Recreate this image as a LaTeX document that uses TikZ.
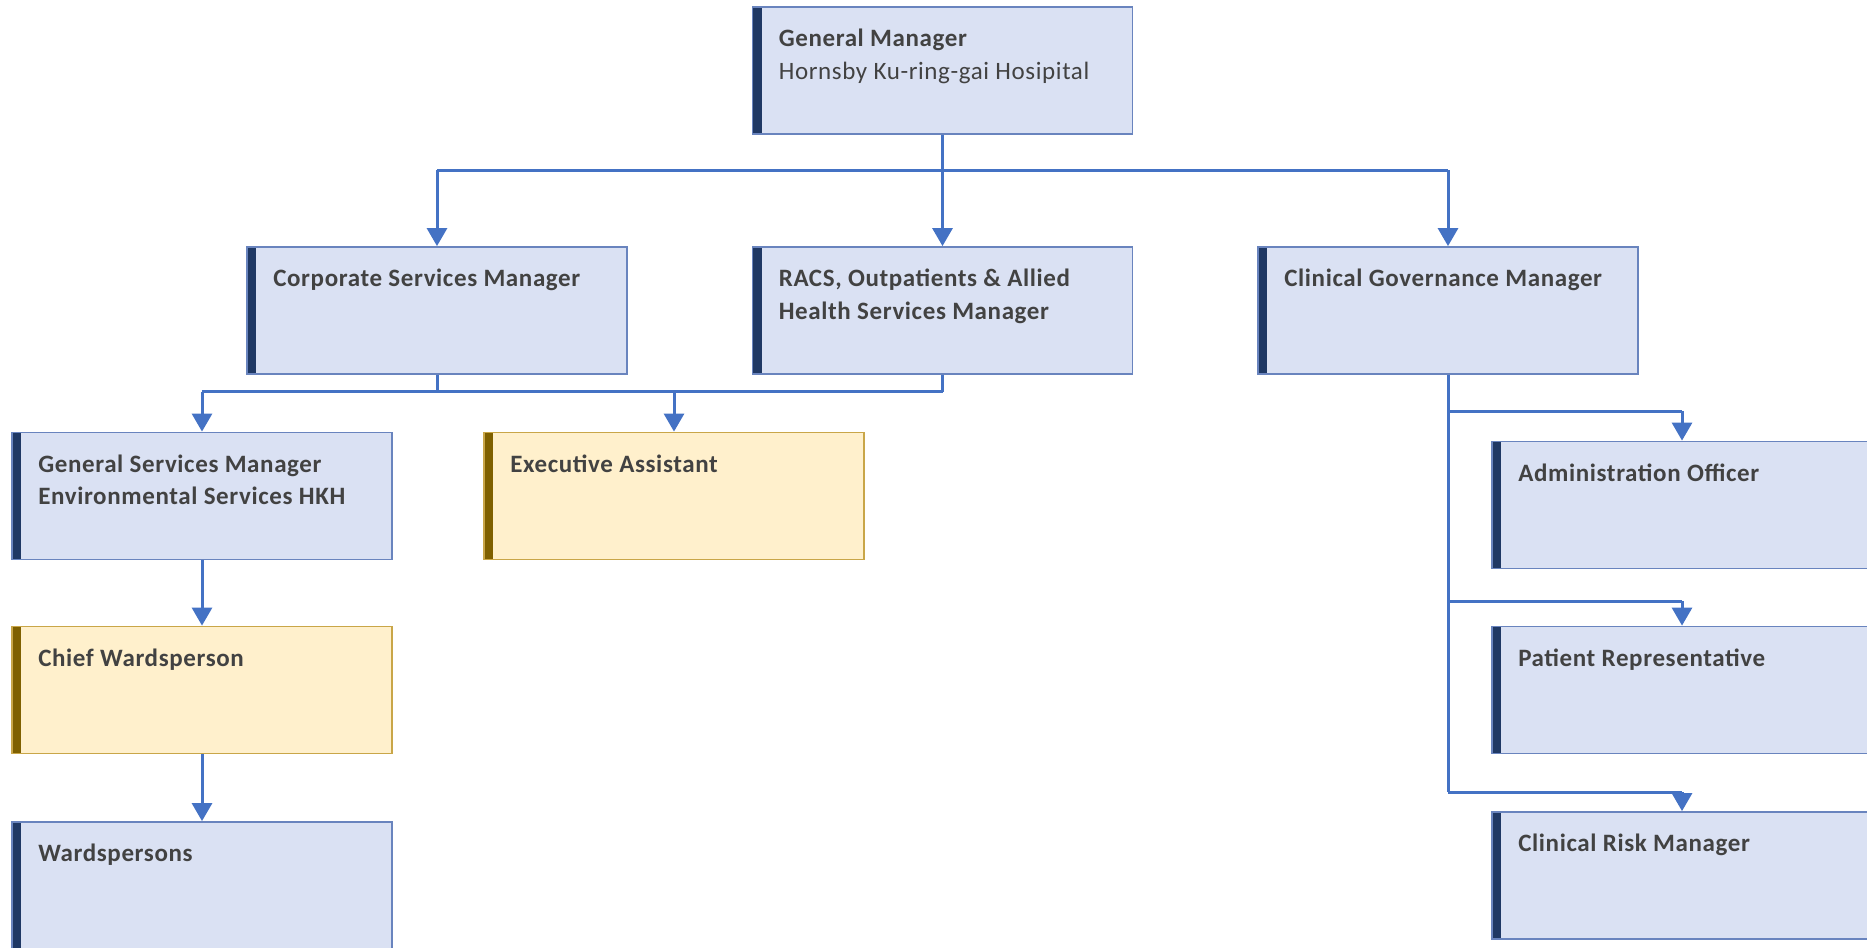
\documentclass[tikz,border=0pt]{standalone}
\usepackage{fontspec}
\setmainfont{Carlito}[LetterSpace=2.5]
\usetikzlibrary{arrows.meta}
\definecolor{boxfill}{RGB}{218,225,243}
\definecolor{boxline}{RGB}{105,132,190}
\definecolor{boxbar}{RGB}{31,56,100}
\definecolor{yelfill}{RGB}{255,240,204}
\definecolor{yelline}{RGB}{201,166,72}
\definecolor{yelbar}{RGB}{127,96,0}
\definecolor{conn}{RGB}{68,114,196}
\definecolor{txt}{RGB}{66,66,66}
\tikzset{
  orgbox/.style={rectangle, draw=boxline, fill=boxfill, line width=1.8pt,
    minimum width=380pt, minimum height=127pt, inner sep=0pt,
    path picture={\fill[boxbar] (path picture bounding box.north west)
      rectangle ([xshift=9pt]path picture bounding box.south west);}},
  yelbox/.style={orgbox, draw=yelline, fill=yelfill,
    path picture={\fill[yelbar] (path picture bounding box.north west)
      rectangle ([xshift=9pt]path picture bounding box.south west);}},
  boxtext/.style={anchor=north west, inner sep=0pt, text=txt, align=left,
    font=\fontsize{25}{32.5}\selectfont\bfseries},
  link/.style={draw=conn, line width=3pt},
  arr/.style={link, -{Triangle[width=20pt,length=18pt]}},
}
% text block inside a box: first baseline 41pt below the top edge
\newcommand{\boxlabel}[2]{\node[boxtext] (#1-t) at ([xshift=27pt,yshift=-21.5pt]#1.north west) {\rule{0pt}{19pt}#2};}
\begin{document}
\begin{tikzpicture}[x=1pt,y=-1pt]
\useasboundingbox (0,0) rectangle (1867,947);
% boxes
\node[orgbox] (gm) at (942.5,70.5) {};
\node[orgbox] (corp) at (437,310.5) {};
\node[orgbox] (racs) at (942.5,310.5) {};
\node[orgbox] (cgov) at (1448,310.5) {};
\node[orgbox] (gsm) at (202,496) {};
\node[yelbox] (ea) at (674,496) {};
\node[yelbox] (chief) at (202,690) {};
\node[orgbox] (ward) at (202,885.5) {};
\node[orgbox] (admin) at (1682,505) {};
\node[orgbox] (pat) at (1682,690) {};
\node[orgbox] (crm) at (1682,875.5) {};
% texts
\boxlabel{gm}{General Manager\\\mdseries Hornsby Ku-ring-gai Hosipital}
\boxlabel{corp}{Corporate Services Manager}
\boxlabel{racs}{RACS, Outpatients \& Allied\\Health Services Manager}
\boxlabel{cgov}{Clinical Governance Manager}
\boxlabel{gsm}{General Services Manager\\Environmental Services HKH}
\boxlabel{ea}{Executive Assistant}
\boxlabel{chief}{Chief Wardsperson}
\boxlabel{ward}{Wardspersons}
\boxlabel{admin}{Administration Officer}
\boxlabel{pat}{Patient Representative}
\boxlabel{crm}{Clinical Risk Manager}
% junction points
\coordinate (j1) at (942.5,170);
\coordinate (j2) at (942.5,391.5);
\coordinate (j3) at (437,391.5);
% connectors
\draw[link] (gm.south) -- (j1);
\draw[link] (corp.north |- j1) -- (cgov.north |- j1);
\draw[arr] (corp.north |- j1) -- (corp.north);
\draw[arr] (j1) -- (racs.north);
\draw[arr] (cgov.north |- j1) -- (cgov.north);
\draw[link] (corp.south) -- (j3);
\draw[link] (racs.south) -- (j2);
\draw[link] (gsm.north |- j2) -- (j2);
\draw[arr] (gsm.north |- j2) -- (gsm.north);
\draw[arr] (ea.north |- j2) -- (ea.north);
\draw[arr] (gsm.south) -- (chief.north);
\draw[arr] (chief.south) -- (ward.north);
\draw[link] (cgov.south) -- (cgov.south |- 0,792);
\draw[link] (cgov.south |- 0,411) -- (admin.north |- 0,411);
\draw[link] (cgov.south |- 0,601) -- (pat.north |- 0,601);
\draw[link] (cgov.south |- 0,792) -- (crm.north |- 0,792);
\draw[arr] (admin.north |- 0,411) -- (admin.north);
\draw[arr] (pat.north |- 0,601) -- (pat.north);
\draw[arr] (crm.north |- 0,792) -- (crm.north);
\end{tikzpicture}
\end{document}
